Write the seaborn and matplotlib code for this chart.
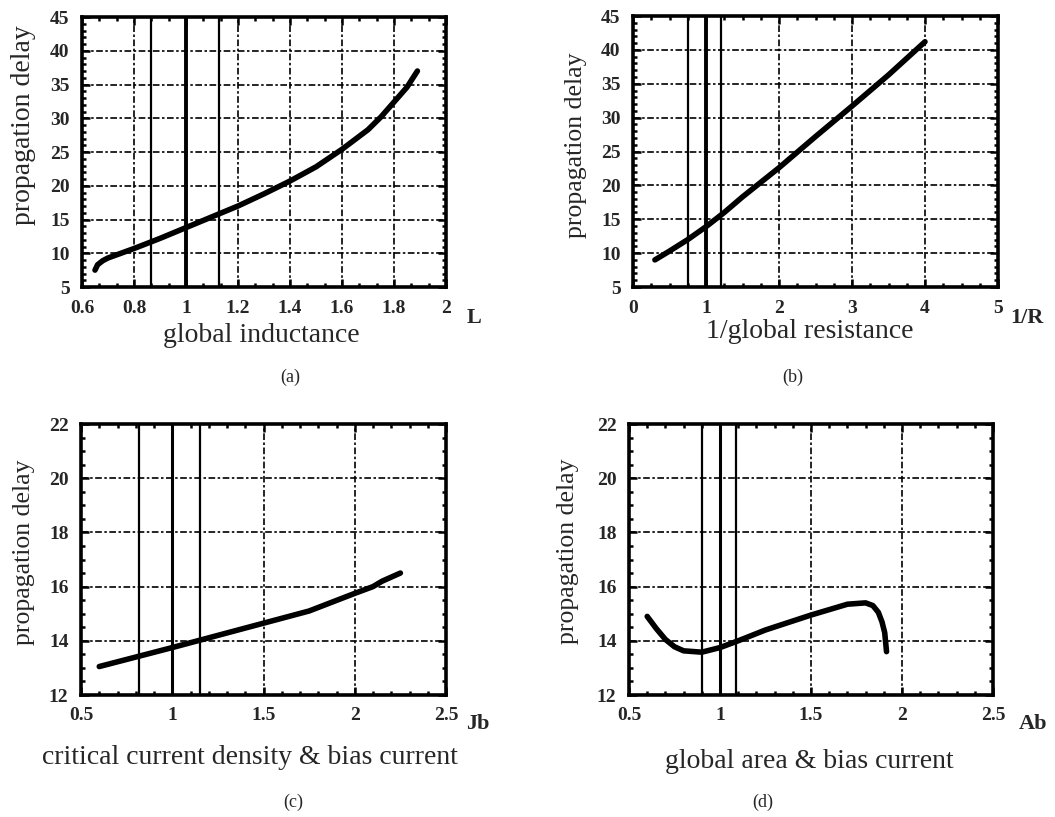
import numpy as np
import pandas as pd
import matplotlib
matplotlib.use("Agg")
import matplotlib.pyplot as plt
import seaborn as sns
from matplotlib.ticker import MultipleLocator, AutoMinorLocator, FuncFormatter

# ---------------- data ----------------
a_x = [0.65, 0.66, 0.68, 0.70, 0.75, 0.80, 0.90, 1.00, 1.10, 1.20, 1.30, 1.40, 1.50, 1.60, 1.70, 1.75, 1.80, 1.85, 1.89]
a_y = [7.5, 8.3, 8.9, 9.3, 10.0, 10.7, 12.2, 13.8, 15.4, 17.0, 18.8, 20.7, 22.8, 25.4, 28.3, 30.2, 32.4, 34.6, 37.0]

b_x = [0.30, 0.50, 0.75, 1.00, 1.25, 1.50, 2.00, 2.50, 3.00, 3.50, 4.00]
b_y = [9.0, 10.3, 12.0, 13.9, 16.0, 18.3, 22.6, 27.2, 31.7, 36.3, 41.2]

c_x = [0.60, 0.80, 1.00, 1.25, 1.50, 1.75, 2.00, 2.10, 2.15, 2.25]
c_y = [13.05, 13.40, 13.75, 14.20, 14.65, 15.10, 15.75, 16.00, 16.20, 16.50]

d_x = [0.60, 0.65, 0.70, 0.75, 0.80, 0.90, 1.00, 1.10, 1.25, 1.50, 1.70, 1.80, 1.84, 1.87, 1.89, 1.905, 1.91, 1.915]
d_y = [14.90, 14.45, 14.05, 13.78, 13.63, 13.58, 13.75, 14.00, 14.40, 14.95, 15.35, 15.40, 15.30, 15.05, 14.70, 14.30, 13.95, 13.60]

a_vlines = [0.865, 1.0, 1.125]
b_vlines = [0.75, 1.0, 1.2]
c_vlines = [0.82, 1.0, 1.15]
d_vlines = [0.90, 1.0, 1.09]

x_labels = ["global inductance", "1/global resistance",
            "critical current density & bias current", "global area & bias current"]
var_labels = ["L", "1/R", "Jb", "Ab"]
panel_tags = ["(a)", "(b)", "(c)", "(d)"]
y_label = "propagation delay"

# ---------------- figure ----------------
sns.set_theme(style="ticks")
plt.rcParams['font.family'] = ['Liberation Serif', 'DejaVu Serif']

W, H = 1055, 817
fig = plt.figure(figsize=(W / 100, H / 100), dpi=100)
fig.patch.set_facecolor("white")

def px_axes(l, t, r, b):
    return fig.add_axes([l / W, 1 - b / H, (r - l) / W, (b - t) / H])

def fx(x):
    return x / W

def fy(y):
    return 1 - y / H

panels = [
    dict(box=(82, 17, 446, 287), x=a_x, y=a_y, vl=a_vlines, vw=[1.6, 2.8, 1.6],
         xlim=(0.6, 2.0), xmaj=0.2, xmin=3, ylim=(5, 45), ymaj=5, ymin=5),
    dict(box=(633, 16, 998, 287), x=b_x, y=b_y, vl=b_vlines, vw=[1.6, 2.8, 1.6],
         xlim=(0, 5), xmaj=1, xmin=4, ylim=(5, 45), ymaj=5, ymin=5),
    dict(box=(81, 424, 446, 695), x=c_x, y=c_y, vl=c_vlines, vw=[1.6, 2.2, 1.6],
         xlim=(0.5, 2.5), xmaj=0.5, xmin=5, ylim=(12, 22), ymaj=2, ymin=4),
    dict(box=(629, 424, 993, 695), x=d_x, y=d_y, vl=d_vlines, vw=[1.6, 2.2, 1.6],
         xlim=(0.5, 2.5), xmaj=0.5, xmin=5, ylim=(12, 22), ymaj=2, ymin=4),
]

fmt = FuncFormatter(lambda v, p: ("%g" % round(v, 3)))

for p in panels:
    ax = px_axes(*p["box"])
    df = pd.DataFrame({"x": p["x"], "y": p["y"]})
    ax.set_xlim(*p["xlim"])
    ax.set_ylim(*p["ylim"])
    ax.xaxis.set_major_locator(MultipleLocator(p["xmaj"]))
    ax.yaxis.set_major_locator(MultipleLocator(p["ymaj"]))
    ax.xaxis.set_minor_locator(AutoMinorLocator(p["xmin"]))
    ax.yaxis.set_minor_locator(AutoMinorLocator(p["ymin"]))
    ax.xaxis.set_major_formatter(fmt)
    ax.yaxis.set_major_formatter(fmt)
    ax.grid(True, which="major", color="black", linewidth=1.2,
            linestyle=(0, (4, 1.5, 1.5, 1.5)))
    for xv, lw in zip(p["vl"], p["vw"]):
        ax.axvline(xv, color="black", linewidth=lw, zorder=3)
    sns.lineplot(data=df, x="x", y="y", ax=ax, color="black", linewidth=4,
                 sort=False, estimator=None, zorder=4)
    ax.set_xlabel("")
    ax.set_ylabel("")
    ax.tick_params(which="both", direction="in", top=True, right=True,
                   width=1.8, color="black")
    ax.tick_params(which="major", length=6, pad=9, labelsize=14)
    ax.tick_params(which="minor", length=3)
    for lab in ax.get_xticklabels() + ax.get_yticklabels():
        lab.set_fontweight("bold")
    for s in ax.spines.values():
        s.set_linewidth(2.6)
        s.set_color("black")
    ax.set_xlim(*p["xlim"])
    ax.set_ylim(*p["ylim"])

# y labels
ylab_pos = [(24, 125, 20), (576, 145, 18.5), (24, 552, 18.5), (568, 551, 18.5)]
for (x, y, fs) in ylab_pos:
    fig.text(fx(x), fy(y), y_label, rotation=90, ha="center", va="center", fontsize=fs)

# x labels
xlab_pos = [(261, 335), (810, 332), (250, 758), (809, 762)]
for (x, y), t in zip(xlab_pos, x_labels):
    fig.text(fx(x), fy(y), t, ha="center", va="center", fontsize=20)

# variable tags
var_pos = [(474, 318), (1027, 318), (478, 724), (1033, 724)]
for (x, y), t in zip(var_pos, var_labels):
    fig.text(fx(x), fy(y), t, ha="center", va="center", fontsize=16, fontweight="bold")

# panel tags
tag_pos = [(290, 377), (793, 377), (293, 802), (763, 802)]
for (x, y), t in zip(tag_pos, panel_tags):
    fig.text(fx(x), fy(y), t, ha="center", va="center", fontsize=13)

fig.savefig("out.png", dpi=100, facecolor="white")
